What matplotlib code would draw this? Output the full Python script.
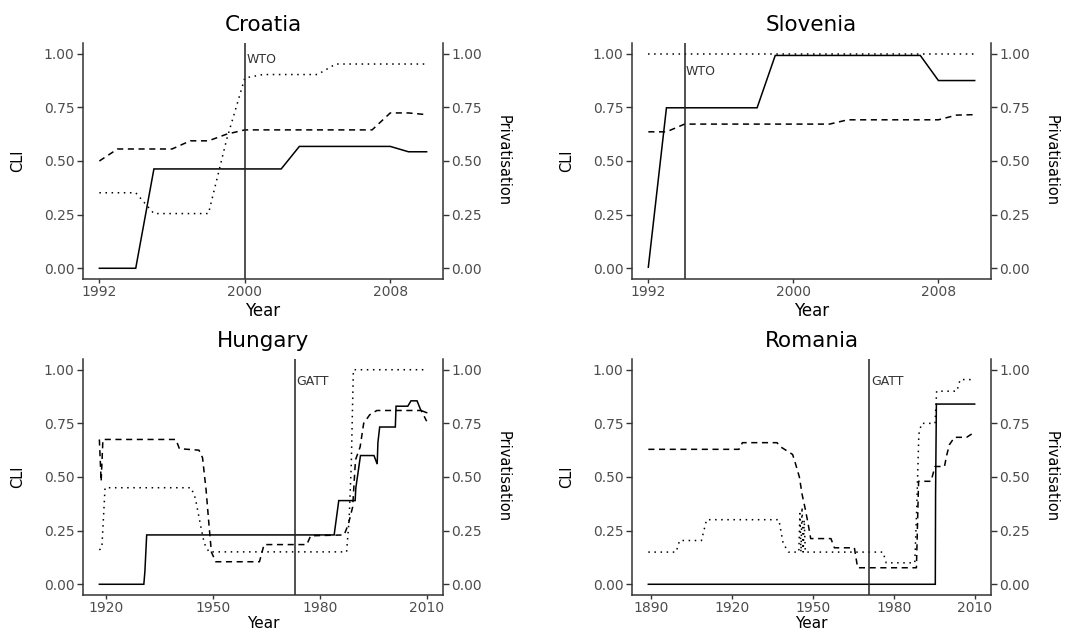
import matplotlib
matplotlib.use('Agg')
import matplotlib.pyplot as plt
import matplotlib.ticker as mticker

#---------------------------------------------
#values
#solid / dashed / dotted lines, years and values
#---------------------------------------------

#Croatia
cro_solid_yr = [1992, 1994, 1995, 2002, 2003, 2008, 2009, 2010]
cro_solid = [0.0, 0.0, 0.463, 0.463, 0.568, 0.568, 0.543, 0.543]
cro_dash_yr = [1992, 1993, 1996, 1997, 1998, 1999, 2000, 2007, 2008, 2009, 2010]
cro_dash = [0.50, 0.556, 0.556, 0.594, 0.594, 0.625, 0.645, 0.645, 0.724, 0.724, 0.716]
cro_dot_yr = [1992, 1994, 1995, 1998, 1999, 2000, 2001, 2004, 2005, 2010]
cro_dot = [0.352, 0.352, 0.255, 0.255, 0.60, 0.887, 0.903, 0.903, 0.952, 0.952]

#Slovenia
slo_solid_yr = [1992, 1993, 1998, 1999, 2007, 2008, 2010]
slo_solid = [0.005, 0.748, 0.748, 0.992, 0.992, 0.875, 0.875]
slo_dash_yr = [1992, 1993, 1994, 2002, 2003, 2008, 2009, 2010]
slo_dash = [0.636, 0.636, 0.672, 0.672, 0.692, 0.692, 0.714, 0.716]
slo_dot_yr = [1992, 2010]
slo_dot = [1.0, 1.0]

#Hungary
hun_solid_yr = [1918, 1930.5, 1930.8, 1931.3, 1984, 1985.3, 1989.9, 1990.1, 1990.8, 1991.4,
                1995.2, 1996.1, 1996.3, 1996.8, 2001.2, 2001.4, 2004.7, 2005.6, 2007.3,
                2008.4, 2010]
hun_solid = [0.0, 0.0, 0.06, 0.23, 0.23, 0.39, 0.39, 0.45, 0.53, 0.60,
             0.60, 0.56, 0.66, 0.733, 0.733, 0.83, 0.83, 0.855, 0.855,
             0.81, 0.80]
hun_dash_yr = [1918, 1918.5, 1919, 1939.5, 1940.5, 1946, 1947, 1948, 1948.8, 1949.5, 1950.7,
               1963, 1964.3, 1976.3, 1977.4, 1986.8, 1988, 1989.2, 1990, 1991.3, 1992.3,
               1994, 1996, 2008.5, 2010]
hun_dash = [0.675, 0.48, 0.675, 0.675, 0.632, 0.625, 0.59, 0.44, 0.28, 0.15, 0.105,
            0.105, 0.185, 0.185, 0.226, 0.23, 0.28, 0.36, 0.58, 0.64, 0.75,
            0.79, 0.81, 0.81, 0.76]
hun_dot_yr = [1918, 1918.7, 1919.6, 1943.8, 1945, 1946.5, 1947.5, 1948.8, 1987.5, 1988.2,
              1988.8, 1989.4, 2009.4]
hun_dot = [0.16, 0.17, 0.45, 0.45, 0.40, 0.27, 0.19, 0.151, 0.151, 0.30,
           0.55, 1.0, 1.0]

#Romania
rom_solid_yr = [1889, 1995.4, 1995.5, 1995.8, 2010]
rom_solid = [0.0, 0.0, 0.42, 0.84, 0.84]
rom_dash_yr = [1889, 1922.6, 1923.9, 1936.7, 1938, 1942.5, 1943.5, 1945, 1946, 1947.2, 1948.2,
               1949.2, 1956.7, 1958, 1965.4, 1966.6, 1988.4, 1989.2, 1993.8, 1995.3, 1998.8,
               1999.6, 2000.6, 2002.5, 2007, 2009.6, 2010]
rom_dash = [0.629, 0.629, 0.66, 0.66, 0.641, 0.605, 0.565, 0.50, 0.42, 0.35, 0.285,
            0.213, 0.213, 0.17, 0.17, 0.077, 0.077, 0.48, 0.48, 0.549, 0.549,
            0.60, 0.65, 0.685, 0.685, 0.706, 0.71]
rom_dot_yr = [1889, 1899.3, 1900.6, 1908.7, 1910.6, 1937.4, 1939, 1941, 1944.8, 1945.2,
              1945.6, 1946.0, 1946.4, 1946.8, 1947.2, 1976, 1977.2, 1987.8, 1988.5, 1989.3,
              1990.3, 1995.3, 1995.9, 2003.4, 2004.6, 2010]
rom_dot = [0.15, 0.15, 0.204, 0.204, 0.301, 0.301, 0.19, 0.15, 0.15, 0.33,
           0.15, 0.36, 0.15, 0.30, 0.15, 0.15, 0.10, 0.10, 0.35, 0.70,
           0.75, 0.75, 0.90, 0.90, 0.954, 0.954]

#trade agreement accession lines
countries = ['Croatia', 'Slovenia', 'Hungary', 'Romania']
event_years = [2000, 1994, 1973, 1971]
event_labels = ['WTO', 'WTO', 'GATT', 'GATT']
event_label_y = [0.972, 0.918, 0.943, 0.943]
x_breaks = [[1992, 2000, 2008], [1992, 2000, 2008],
            [1920, 1950, 1980, 2010], [1890, 1920, 1950, 1980, 2010]]
y_breaks = [0.0, 0.25, 0.50, 0.75, 1.00]

series = [(cro_solid_yr, cro_solid, cro_dash_yr, cro_dash, cro_dot_yr, cro_dot),
          (slo_solid_yr, slo_solid, slo_dash_yr, slo_dash, slo_dot_yr, slo_dot),
          (hun_solid_yr, hun_solid, hun_dash_yr, hun_dash, hun_dot_yr, hun_dot),
          (rom_solid_yr, rom_solid, rom_dash_yr, rom_dash, rom_dot_yr, rom_dot)]

#panel positions in figure fractions (left, bottom, width, height)
W, H = 1076, 630
panel_pos = [[83/W, 351/H, 360/W, 236/H],
             [632/W, 351/H, 359/W, 236/H],
             [83/W, 35/H, 360/W, 236/H],
             [632/W, 35/H, 359/W, 236/H]]
#"Year" label: distance below the panel (px) and size
year_offset = [32, 32, 28, 28]
year_size = [12, 12, 11, 11]

axis_col = '#333333'
tick_col = '#4D4D4D'

fig = plt.figure(figsize=(W/100, H/100), dpi=100)

for n in range(len(countries)):
    ax = fig.add_axes(panel_pos[n])
    s_yr, s_val, d_yr, d_val, p_yr, p_val = series[n]
    pw = panel_pos[n][2]*W

    #the three index lines
    ax.plot(s_yr, s_val, color='black', lw=1.1, solid_joinstyle='miter')
    ax.plot(d_yr, d_val, color='black', lw=1.1, linestyle=(0, (4, 3)))
    ax.plot(p_yr, p_val, color='black', lw=1.1, linestyle=(0, (1, 3)))

    #accession line + label
    ax.axvline(event_years[n], color='#222222', lw=1.1)
    ax.annotate(event_labels[n], xy=(event_years[n], event_label_y[n]),
                xytext=(1, 0), textcoords='offset points',
                ha='left', va='center', fontsize=9, color='#333333')

    #ggplot style 5% expansion
    all_yr = s_yr + d_yr + p_yr
    lo, hi = min(all_yr), max(all_yr)
    ax.set_xlim(lo - 0.05*(hi - lo), hi + 0.05*(hi - lo))
    ax.set_ylim(-0.05, 1.05)

    ax.set_xticks(x_breaks[n])
    ax.set_yticks(y_breaks)
    ax.yaxis.set_major_formatter(mticker.FormatStrFormatter('%.2f'))
    ax.tick_params(axis='both', direction='out', color=axis_col, width=1.0,
                   labelcolor=tick_col, labelsize=10)
    ax.tick_params(axis='y', length=4.5, pad=1.5)
    ax.tick_params(axis='x', length=3.0, pad=1.5)

    ax.spines['top'].set_visible(False)
    ax.spines['right'].set_visible(False)
    for sp in ['left', 'bottom']:
        ax.spines[sp].set_color(axis_col)
        ax.spines[sp].set_linewidth(1.1)

    #secondary axis on the right (same 0-1 scale)
    sec = ax.secondary_yaxis('right')
    sec.set_yticks(y_breaks)
    sec.yaxis.set_major_formatter(mticker.FormatStrFormatter('%.2f'))
    sec.tick_params(axis='y', direction='out', color=axis_col, width=1.0, length=4.5,
                    pad=1.5, labelcolor=tick_col, labelsize=10)
    sec.spines['right'].set_color(axis_col)
    sec.spines['right'].set_linewidth(1.1)

    #axis titles
    ax.set_xlabel('Year', fontsize=year_size[n], color='black')
    ax.xaxis.set_label_coords(0.5, -year_offset[n]/236)
    ax.xaxis.label.set_va('center')
    ax.set_ylabel('CLI', fontsize=10.5, color='black')
    ax.yaxis.set_label_coords(-65/pw, 0.5)
    ax.yaxis.label.set_va('center')
    ax.text(1 + 60/pw, 0.5, 'Privatisation', transform=ax.transAxes, rotation=-90,
            ha='center', va='center', fontsize=10.5, color='black')

    #panel title
    ax.set_title(countries[n], fontsize=15.5, y=1 + 18/236, va='center', pad=0)

fig.savefig('out.png', dpi=100)
